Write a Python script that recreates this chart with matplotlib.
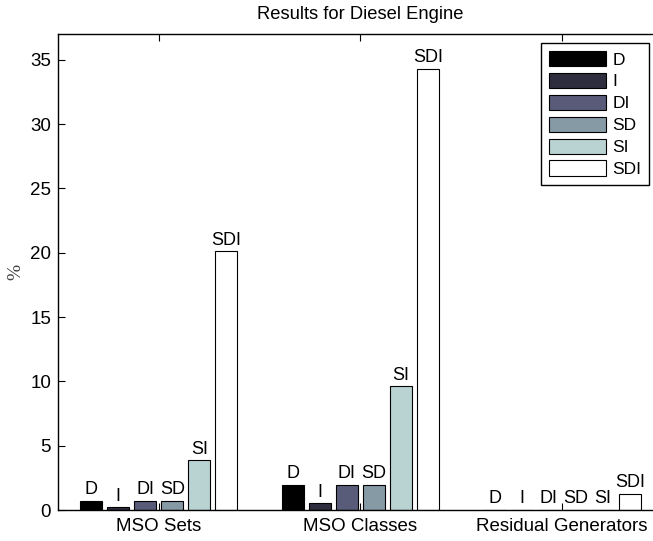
import matplotlib.pyplot as plt
import numpy as np

plt.rcParams['font.family'] = ['Liberation Sans', 'DejaVu Sans']

groups = ['MSO Sets', 'MSO Classes', 'Residual Generators']
series = ['D', 'I', 'DI', 'SD', 'SI', 'SDI']
# percentages, one row per group, one column per series
values = [
    [0.72, 0.2, 0.72, 0.72, 3.85, 20.1],
    [1.94, 0.52, 1.94, 1.94, 9.6, 34.3],
    [0.0, 0.0, 0.0, 0.0, 0.0, 1.24],
]
title = 'Results for Diesel Engine'

colors = plt.cm.bone(np.linspace(0, 1, len(series)))
values = np.array(values)
x = np.arange(1, len(groups) + 1)

fig = plt.figure(figsize=(6.53, 5.41), dpi=100)
ax = fig.add_axes([0.0888, 0.0573, 0.9265, 0.8799])

step = 0.134
width = 0.109
for i, name in enumerate(series):
    pos = x + (i - 2.5) * step
    bars = ax.bar(pos, values[:, i], width, color=colors[i], edgecolor='black',
                  linewidth=0.8, label=name)
    for b, v in zip(bars, values[:, i]):
        ax.annotate(name, (b.get_x() + b.get_width() / 2, v), xytext=(0, 2),
                    textcoords='offset points', ha='center', va='bottom', fontsize=13)

ax.set_xlim(0.5, 3.5)
ax.set_ylim(0, 37)
ax.set_xticks(x)
ax.set_xticklabels(groups, fontsize=13.5)
ax.set_yticks(range(0, 36, 5))
ax.tick_params(axis='y', labelsize=13.5, direction='in', length=5, pad=5)
ax.tick_params(axis='x', direction='in', length=5, top=True, pad=6)
for s in ax.spines.values():
    s.set_linewidth(1)
ax.set_ylabel('%', family=['Liberation Serif', 'DejaVu Serif'], fontsize=14, color='#444444')
ax.yaxis.set_label_coords(-0.056, 0.5)
ax.set_title(title, fontsize=13.2, pad=11)

leg = ax.legend(loc='upper right', bbox_to_anchor=(0.994, 0.9205),
                bbox_transform=fig.transFigure, fontsize=12.5, fancybox=False,
                edgecolor='black', framealpha=1, handlelength=3.3, handleheight=1.0,
                handletextpad=0.35, borderpad=0.45, labelspacing=0.3, borderaxespad=0)
leg.get_frame().set_linewidth(1)

fig.savefig('out.png', dpi=100)
